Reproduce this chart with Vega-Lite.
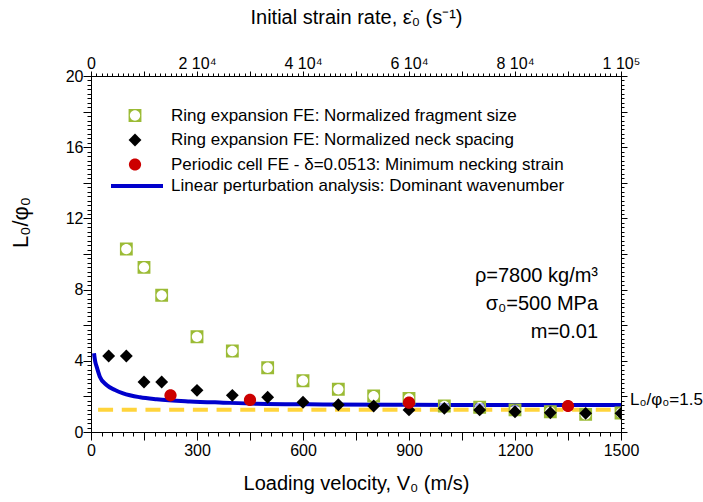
{
  "$schema": "https://vega.github.io/schema/vega-lite/v6.json",
  "width": 530,
  "height": 356,
  "autosize": {"type": "none"},
  "padding": {"left": 91, "top": 76, "right": 82, "bottom": 70},
  "background": "white",
  "config": {
    "font": "Liberation Sans",
    "view": {"stroke": "black", "strokeWidth": 1},
    "axis": {"grid": false, "domain": false, "ticks": true, "tickColor": "black", "tickWidth": 1, "labelColor": "black", "titleColor": "black", "labelFont": "Liberation Sans", "titleFont": "Liberation Sans", "labelFontSize": 16, "titleFontSize": 20, "titleFontWeight": "normal", "labelOverlap": false, "labelFlush": false, "labelBound": false}
  },
  "datasets": {
    "frag": [
      {"V": 100, "L": 10.28, "series": "Ring expansion FE: Normalized fragment size"},
      {"V": 150, "L": 9.25, "series": "Ring expansion FE: Normalized fragment size"},
      {"V": 200, "L": 7.68, "series": "Ring expansion FE: Normalized fragment size"},
      {"V": 300, "L": 5.35, "series": "Ring expansion FE: Normalized fragment size"},
      {"V": 400, "L": 4.55, "series": "Ring expansion FE: Normalized fragment size"},
      {"V": 500, "L": 3.61, "series": "Ring expansion FE: Normalized fragment size"},
      {"V": 600, "L": 2.88, "series": "Ring expansion FE: Normalized fragment size"},
      {"V": 700, "L": 2.4, "series": "Ring expansion FE: Normalized fragment size"},
      {"V": 800, "L": 2.02, "series": "Ring expansion FE: Normalized fragment size"},
      {"V": 900, "L": 1.89, "series": "Ring expansion FE: Normalized fragment size"},
      {"V": 1000, "L": 1.46, "series": "Ring expansion FE: Normalized fragment size"},
      {"V": 1100, "L": 1.39, "series": "Ring expansion FE: Normalized fragment size"},
      {"V": 1200, "L": 1.24, "series": "Ring expansion FE: Normalized fragment size"},
      {"V": 1300, "L": 1.14, "series": "Ring expansion FE: Normalized fragment size"},
      {"V": 1400, "L": 0.99, "series": "Ring expansion FE: Normalized fragment size"},
      {"V": 1500, "L": 1.07, "series": "Ring expansion FE: Normalized fragment size"}
    ],
    "neck": [
      {"V": 50, "L": 4.27, "series": "Ring expansion FE: Normalized neck spacing"},
      {"V": 100, "L": 4.27, "series": "Ring expansion FE: Normalized neck spacing"},
      {"V": 150, "L": 2.81, "series": "Ring expansion FE: Normalized neck spacing"},
      {"V": 200, "L": 2.81, "series": "Ring expansion FE: Normalized neck spacing"},
      {"V": 300, "L": 2.34, "series": "Ring expansion FE: Normalized neck spacing"},
      {"V": 400, "L": 2.06, "series": "Ring expansion FE: Normalized neck spacing"},
      {"V": 500, "L": 1.95, "series": "Ring expansion FE: Normalized neck spacing"},
      {"V": 600, "L": 1.67, "series": "Ring expansion FE: Normalized neck spacing"},
      {"V": 700, "L": 1.53, "series": "Ring expansion FE: Normalized neck spacing"},
      {"V": 800, "L": 1.46, "series": "Ring expansion FE: Normalized neck spacing"},
      {"V": 900, "L": 1.24, "series": "Ring expansion FE: Normalized neck spacing"},
      {"V": 1000, "L": 1.33, "series": "Ring expansion FE: Normalized neck spacing"},
      {"V": 1100, "L": 1.24, "series": "Ring expansion FE: Normalized neck spacing"},
      {"V": 1200, "L": 1.14, "series": "Ring expansion FE: Normalized neck spacing"},
      {"V": 1300, "L": 1.08, "series": "Ring expansion FE: Normalized neck spacing"},
      {"V": 1400, "L": 1.05, "series": "Ring expansion FE: Normalized neck spacing"},
      {"V": 1500, "L": 1.05, "series": "Ring expansion FE: Normalized neck spacing"}
    ],
    "cell": [
      {"V": 225, "L": 2.06, "series": "Periodic cell FE - δ=0.0513: Minimum necking strain"},
      {"V": 450, "L": 1.8, "series": "Periodic cell FE - δ=0.0513: Minimum necking strain"},
      {"V": 900, "L": 1.65, "series": "Periodic cell FE - δ=0.0513: Minimum necking strain"},
      {"V": 1350, "L": 1.46, "series": "Periodic cell FE - δ=0.0513: Minimum necking strain"}
    ],
    "curve": [
      {"V": 8.5, "L": 4.43, "curve": "Linear perturbation analysis: Dominant wavenumber"},
      {"V": 12, "L": 3.95, "curve": "Linear perturbation analysis: Dominant wavenumber"},
      {"V": 16, "L": 3.67, "curve": "Linear perturbation analysis: Dominant wavenumber"},
      {"V": 25, "L": 3.11, "curve": "Linear perturbation analysis: Dominant wavenumber"},
      {"V": 44, "L": 2.64, "curve": "Linear perturbation analysis: Dominant wavenumber"},
      {"V": 68, "L": 2.36, "curve": "Linear perturbation analysis: Dominant wavenumber"},
      {"V": 91, "L": 2.17, "curve": "Linear perturbation analysis: Dominant wavenumber"},
      {"V": 139, "L": 1.95, "curve": "Linear perturbation analysis: Dominant wavenumber"},
      {"V": 186, "L": 1.84, "curve": "Linear perturbation analysis: Dominant wavenumber"},
      {"V": 280, "L": 1.72, "curve": "Linear perturbation analysis: Dominant wavenumber"},
      {"V": 374, "L": 1.65, "curve": "Linear perturbation analysis: Dominant wavenumber"},
      {"V": 469, "L": 1.59, "curve": "Linear perturbation analysis: Dominant wavenumber"},
      {"V": 657, "L": 1.55, "curve": "Linear perturbation analysis: Dominant wavenumber"},
      {"V": 900, "L": 1.53, "curve": "Linear perturbation analysis: Dominant wavenumber"},
      {"V": 1200, "L": 1.52, "curve": "Linear perturbation analysis: Dominant wavenumber"},
      {"V": 1500, "L": 1.52, "curve": "Linear perturbation analysis: Dominant wavenumber"}
    ],
    "limit": [
      {"V": 20, "L": 1.25},
      {"V": 1500, "L": 1.25}
    ]
  },
  "resolve": {"axis": {"x": "independent", "y": "independent"}},
  "layer": [
    {
      "data": {"name": "limit"},
      "mark": {"type": "line", "stroke": "#FFD43B", "strokeWidth": 4, "strokeDash": [15, 8.7], "opacity": 1},
      "encoding": {
        "x": {"field": "V", "type": "quantitative", "scale": {"domain": [0, 1500], "nice": false, "zero": false}, "axis": null},
        "y": {"field": "L", "type": "quantitative", "scale": {"domain": [0, 20], "nice": false, "zero": false}, "axis": null}
      }
    },
    {
      "data": {"name": "curve"},
      "mark": {"type": "line", "strokeWidth": 4, "interpolate": "monotone"},
      "encoding": {
        "x": {"field": "V", "type": "quantitative", "scale": {"domain": [0, 1500], "nice": false, "zero": false},
          "axis": {"orient": "bottom", "values": [0,150,300,450,600,750,900,1050,1200,1350,1500], "ticks": true, "tickSize": 8, "labelPadding": 2, "labelExpr": "datum.value % 300 == 0 ? format(datum.value, 'd') : ''", "title": "Loading velocity, V₀ (m/s)", "titlePadding": 15}},
        "y": {"field": "L", "type": "quantitative", "scale": {"domain": [0, 20], "nice": false, "zero": false},
          "axis": {"orient": "left", "values": [0,2,4,6,8,10,12,14,16,18,20], "ticks": true, "tickSize": 8, "labelPadding": 0, "labelExpr": "datum.value % 4 == 0 ? format(datum.value, 'd') : ''", "title": "L₀/φ₀", "titleFontSize": 22, "titleX": -64, "titleY": 146, "titleAlign": "center", "titleBaseline": "alphabetic"}},
        "stroke": {"field": "curve", "type": "nominal", "scale": {"range": ["#0000CC"]},
          "legend": {"orient": "none", "legendX": 18, "legendY": 82, "title": null, "padding": 0, "symbolType": "stroke", "symbolSize": 2704, "symbolStrokeWidth": 4, "labelFontSize": 17, "labelFont": "Liberation Sans", "labelColor": "black", "labelOffset": 6, "labelLimit": 600}}
      }
    },
    {
      "data": {"name": "frag"},
      "mark": {"type": "point", "shape": "circle", "filled": true, "color": "white", "size": 100, "clip": true},
      "encoding": {
        "x": {"field": "V", "type": "quantitative", "scale": {"domain": [0, 1500], "nice": false, "zero": false},
          "axis": {"orient": "bottom", "values": [0,30,60,90,120,150,180,210,240,270,300,330,360,390,420,450,480,510,540,570,600,630,660,690,720,750,780,810,840,870,900,930,960,990,1020,1050,1080,1110,1140,1170,1200,1230,1260,1290,1320,1350,1380,1410,1440,1470,1500], "labels": false, "ticks": true, "tickSize": 4, "title": null}},
        "y": {"field": "L", "type": "quantitative", "scale": {"domain": [0, 20], "nice": false, "zero": false},
          "axis": {"orient": "left", "values": [0,0.25,0.5,0.75,1,1.25,1.5,1.75,2,2.25,2.5,2.75,3,3.25,3.5,3.75,4,4.25,4.5,4.75,5,5.25,5.5,5.75,6,6.25,6.5,6.75,7,7.25,7.5,7.75,8,8.25,8.5,8.75,9,9.25,9.5,9.75,10,10.25,10.5,10.75,11,11.25,11.5,11.75,12,12.25,12.5,12.75,13,13.25,13.5,13.75,14,14.25,14.5,14.75,15,15.25,15.5,15.75,16,16.25,16.5,16.75,17,17.25,17.5,17.75,18,18.25,18.5,18.75,19,19.25,19.5,19.75,20], "labels": false, "ticks": true, "tickSize": 4, "title": null}}
      }
    },
    {
      "data": {"name": "frag"},
      "mark": {"type": "point", "filled": true, "size": 165, "strokeWidth": 0, "opacity": 1, "clip": true},
      "encoding": {
        "x": {"field": "V", "type": "quantitative", "scale": {"domain": [0, 1500], "nice": false, "zero": false},
          "axis": {"orient": "top", "values": [0,150,300,450,600,750,900,1050,1200,1350,1500], "ticks": true, "tickSize": 5, "labelPadding": 0, "labelExpr": "datum.value == 0 ? '0' : datum.value == 1500 ? '1 10⁵' : datum.value % 300 == 0 ? format(datum.value / 150, 'd') + ' 10⁴' : ''", "title": "Initial strain rate, ε̇₀ (s⁻¹)", "titlePadding": 28}},
        "y": {"field": "L", "type": "quantitative", "scale": {"domain": [0, 20], "nice": false, "zero": false},
          "axis": {"orient": "right", "values": [0,2,4,6,8,10,12,14,16,18,20], "labels": false, "ticks": true, "tickSize": 6, "title": null}},
        "fill": {"field": "series", "type": "nominal",
          "scale": {"domain": ["Ring expansion FE: Normalized fragment size", "Ring expansion FE: Normalized neck spacing", "Periodic cell FE - δ=0.0513: Minimum necking strain"], "range": ["#9BBB35", "#000000", "#CC0000"]},
          "legend": {"orient": "none", "legendX": 35.5, "legendY": 31, "title": null, "padding": 0, "symbolSize": 165, "symbolStrokeWidth": 0, "labelFontSize": 17, "labelFont": "Liberation Sans", "labelColor": "black", "labelOffset": 27.5, "rowPadding": 6.5, "labelLimit": 600}},
        "shape": {"field": "series", "type": "nominal",
          "scale": {"domain": ["Ring expansion FE: Normalized fragment size", "Ring expansion FE: Normalized neck spacing", "Periodic cell FE - δ=0.0513: Minimum necking strain"], "range": ["M-1,-1H1V1H-1Z M0,-0.8A0.8,0.8 0 1,0 0,0.8A0.8,0.8 0 1,0 0,-0.8Z", "M0,-1L1,0L0,1L-1,0Z", "M-0.95,0A0.95,0.95 0 1,1 0.95,0A0.95,0.95 0 1,1 -0.95,0Z"]}}
      }
    },
    {
      "data": {"name": "neck"},
      "mark": {"type": "point", "filled": true, "size": 165, "strokeWidth": 0, "opacity": 1, "clip": true},
      "encoding": {
        "x": {"field": "V", "type": "quantitative", "scale": {"domain": [0, 1500], "nice": false, "zero": false},
          "axis": {"orient": "top", "values": [0,15,30,45,60,75,90,105,120,135,150,165,180,195,210,225,240,255,270,285,300,315,330,345,360,375,390,405,420,435,450,465,480,495,510,525,540,555,570,585,600,615,630,645,660,675,690,705,720,735,750,765,780,795,810,825,840,855,870,885,900,915,930,945,960,975,990,1005,1020,1035,1050,1065,1080,1095,1110,1125,1140,1155,1170,1185,1200,1215,1230,1245,1260,1275,1290,1305,1320,1335,1350,1365,1380,1395,1410,1425,1440,1455,1470,1485,1500], "labels": false, "ticks": true, "tickSize": 3, "title": null}},
        "y": {"field": "L", "type": "quantitative", "scale": {"domain": [0, 20], "nice": false, "zero": false},
          "axis": {"orient": "right", "values": [0,0.25,0.5,0.75,1,1.25,1.5,1.75,2,2.25,2.5,2.75,3,3.25,3.5,3.75,4,4.25,4.5,4.75,5,5.25,5.5,5.75,6,6.25,6.5,6.75,7,7.25,7.5,7.75,8,8.25,8.5,8.75,9,9.25,9.5,9.75,10,10.25,10.5,10.75,11,11.25,11.5,11.75,12,12.25,12.5,12.75,13,13.25,13.5,13.75,14,14.25,14.5,14.75,15,15.25,15.5,15.75,16,16.25,16.5,16.75,17,17.25,17.5,17.75,18,18.25,18.5,18.75,19,19.25,19.5,19.75,20], "labels": false, "ticks": true, "tickSize": 3, "title": null}},
        "fill": {"field": "series", "type": "nominal"},
        "shape": {"field": "series", "type": "nominal"}
      }
    },
    {
      "data": {"name": "cell"},
      "mark": {"type": "point", "filled": true, "size": 165, "strokeWidth": 0, "opacity": 1, "clip": true},
      "encoding": {
        "x": {"field": "V", "type": "quantitative", "scale": {"domain": [0, 1500], "nice": false, "zero": false}, "axis": null},
        "y": {"field": "L", "type": "quantitative", "scale": {"domain": [0, 20], "nice": false, "zero": false}, "axis": null},
        "fill": {"field": "series", "type": "nominal"},
        "shape": {"field": "series", "type": "nominal"}
      }
    },
    {
      "data": {"values": [{}]},
      "mark": {"type": "text", "align": "right", "baseline": "alphabetic", "fontSize": 20, "lineHeight": 28, "font": "Liberation Sans", "color": "black"},
      "encoding": {
        "x": {"datum": 1435, "type": "quantitative", "axis": null},
        "y": {"datum": 8.43, "type": "quantitative", "axis": null},
        "text": {"value": ["ρ=7800 kg/m³", "σ₀=500 MPa", "m=0.01"]}
      }
    },
    {
      "data": {"values": [{}]},
      "mark": {"type": "text", "align": "left", "baseline": "alphabetic", "fontSize": 17, "dx": 9, "font": "Liberation Sans", "color": "black"},
      "encoding": {
        "x": {"datum": 1500, "type": "quantitative", "axis": null},
        "y": {"datum": 1.52, "type": "quantitative", "axis": null},
        "text": {"value": "L₀/φ₀=1.5"}
      }
    }
  ]
}
